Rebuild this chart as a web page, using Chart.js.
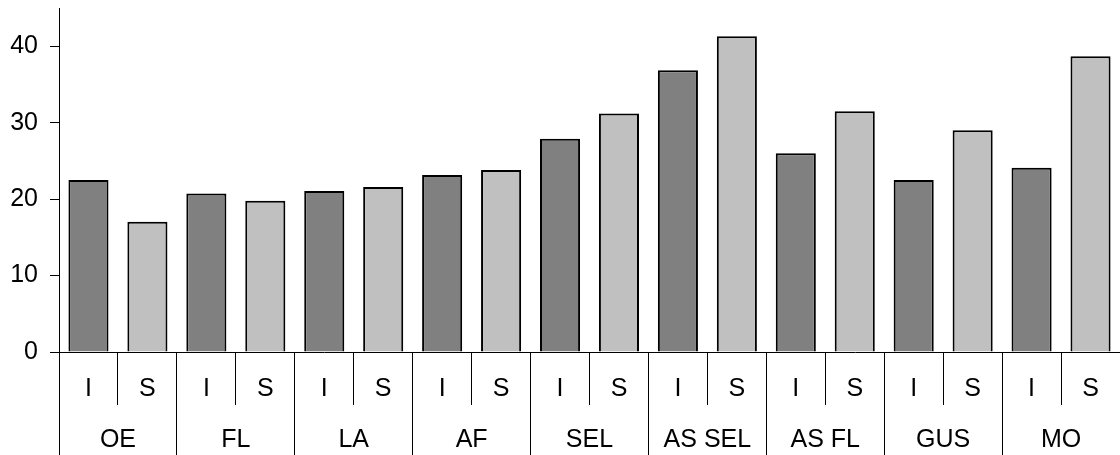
<!DOCTYPE html>
<html>
<head>
<meta charset="utf-8">
<script src="https://cdn.jsdelivr.net/npm/chart.js@4/dist/chart.umd.min.js"></script>
<style>
  html, body { margin: 0; padding: 0; background: #fff; }
  #wrap { width: 1120px; height: 455px; }
</style>
</head>
<body>
<div id="wrap"><canvas id="mainChart" width="1120" height="455"></canvas></div>
<script>
// groups along the bottom, each split into I and S
const groups = ["OE", "FL", "LA", "AF", "SEL", "AS SEL", "AS FL", "GUS", "MO"];
const subLabels = ["I", "S"];
const valuesI = [22.5, 20.75, 21.05, 23.15, 27.9, 36.85, 26.0, 22.5, 24.1];
const valuesS = [17.05, 19.8, 21.6, 23.8, 31.2, 41.3, 31.5, 29.0, 38.7];
const yTicks = [0, 10, 20, 30, 40];

const colorI = "#808080";
const colorS = "#c0c0c0";

const labels = groups.flatMap(() => subLabels);
const values = groups.flatMap((g, i) => [valuesI[i], valuesS[i]]);
const colors = groups.flatMap(() => [colorI, colorS]);

const font = { family: "'Liberation Sans', Arial, sans-serif", size: 25 };

const ctx = document.getElementById("mainChart").getContext("2d");
const mainChart = new Chart(ctx, {
  type: "bar",
  data: {
    labels: labels,
    datasets: [
      {
        data: values,
        backgroundColor: colors,
        borderColor: "#000",
        borderWidth: 2,
        barPercentage: 0.68,
        categoryPercentage: 1.0,
      },
    ],
  },
  options: {
    responsive: false,
    devicePixelRatio: 1,
    animation: false,
    events: [],
    layout: { padding: { top: 8, left: 0, right: -2, bottom: 0 } },
    plugins: {
      legend: { display: false },
      tooltip: { enabled: false },
    },
    scales: {
      x: {
        type: "category",
        weight: 0,
        offset: true,
        grid: {
          offset: true,
          drawOnChartArea: false,
          color: "#000",
          lineWidth: 1,
          tickLength: 53,
        },
        border: { color: "#000", width: 1 },
        ticks: {
          autoSkip: false,
          maxRotation: 0,
          padding: -31,
          color: "#000",
          font: font,
        },
        afterFit: (s) => {
          s.height = 53;
          s.paddingLeft = 0;
          s.paddingRight = 0;
        },
      },
      x2: {
        type: "category",
        position: "bottom",
        weight: 1,
        labels: groups,
        offset: true,
        grid: {
          offset: true,
          drawOnChartArea: false,
          color: "#000",
          lineWidth: 1,
          tickLength: 50,
        },
        border: { display: false },
        ticks: {
          autoSkip: false,
          maxRotation: 0,
          padding: -30,
          color: "#000",
          font: font,
        },
        afterFit: (s) => {
          s.height = 50;
          s.paddingLeft = 0;
          s.paddingRight = 0;
        },
      },
      y: {
        min: 0,
        max: 45,
        afterBuildTicks: (s) => {
          s.ticks = yTicks.map((v) => ({ value: v }));
        },
        grid: {
          drawOnChartArea: false,
          color: "#000",
          lineWidth: 1,
          tickLength: 9,
        },
        border: { color: "#000", width: 1 },
        ticks: { padding: 12, color: "#000", font: font },
        afterFit: (s) => {
          s.width = 59;
          s.paddingTop = 0;
          s.paddingBottom = 0;
        },
      },
    },
  },
});
</script>
</body>
</html>
